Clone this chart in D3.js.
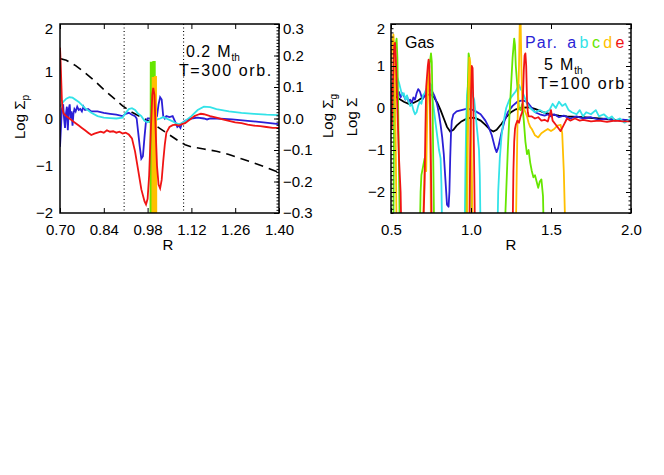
<!DOCTYPE html>
<html><head><meta charset="utf-8">
<script src="https://cdn.jsdelivr.net/npm/d3@7"></script>
<style>html,body{margin:0;padding:0;background:#fff;}svg{display:block;}</style>
</head><body>
<svg id="chart" width="664" height="475"></svg>
<script>
// ---------------- DATA ----------------
// Left panel (0.2 Mth, T=300 orb.) : R, log Sigma_p (left axis); gas on right axis
const leftXTicks = [0.70, 0.84, 0.98, 1.12, 1.26, 1.40];
const leftYTicks = [-2, -1, 0, 1, 2];
const leftY2Ticks = [-0.3, -0.2, -0.1, 0.0, 0.1, 0.2, 0.3];
const leftDotted = [0.905, 1.095];
const leftGas = [[0.70,0.19],[0.72,0.185],[0.75,0.168],[0.78,0.145],[0.81,0.12],[0.84,0.092],[0.87,0.066],[0.90,0.04],[0.93,0.02],[0.96,0.004],[0.99,-0.012],[1.02,-0.032],[1.05,-0.052],[1.08,-0.072],[1.10,-0.083],[1.12,-0.09],[1.16,-0.097],[1.20,-0.104],[1.24,-0.114],[1.28,-0.128],[1.32,-0.141],[1.36,-0.156],[1.40,-0.171]];
const leftA = [[0.700,-0.6],[0.703,-0.2],[0.706,0.2],[0.710,0.3],[0.713,0.0],[0.716,-0.2],[0.719,0.1],[0.722,0.25],[0.725,-0.25],[0.728,0.2],[0.731,0.3],[0.734,0.0],[0.737,0.15],[0.740,-0.15],[0.743,0.1],[0.746,0.2],[0.750,0.15],[0.755,0.25],[0.760,0.18],[0.765,0.2],[0.770,0.15],[0.775,0.25],[0.780,0.18],[0.79,0.2],[0.80,0.15],[0.82,0.15],[0.84,0.12],[0.86,0.1],[0.88,0.08],[0.90,0.05],[0.91,0.1],[0.92,0.12],[0.93,0.08],[0.94,0.05],[0.945,0.0],[0.95,-0.3],[0.955,-0.6],[0.96,-0.85],[0.965,-0.8],[0.97,-0.4],[0.975,-0.05],[0.98,0.0],[0.99,0.0],[1.00,-0.05],[1.01,0.05],[1.015,0.3],[1.02,0.45],[1.025,0.4],[1.03,0.05],[1.035,0.0],[1.04,0.05],[1.05,0.03],[1.06,0.05],[1.07,-0.1],[1.075,-0.18],[1.08,-0.15],[1.085,-0.2],[1.09,-0.1],[1.10,-0.05],[1.12,0.0],[1.14,0.02],[1.16,0.0],[1.17,-0.02],[1.18,0.0],[1.20,0.0],[1.25,-0.02],[1.30,-0.05],[1.35,-0.08],[1.40,-0.12]];
const leftB = [[0.70,0.25],[0.71,0.35],[0.72,0.42],[0.73,0.45],[0.74,0.44],[0.76,0.35],[0.78,0.22],[0.80,0.12],[0.82,0.05],[0.84,0.02],[0.86,0.01],[0.88,0.0],[0.90,0.02],[0.91,0.12],[0.92,0.2],[0.93,0.22],[0.94,0.18],[0.95,0.1],[0.96,0.05],[0.97,-0.05],[0.98,-0.08],[0.99,-0.05],[1.00,0.0],[1.01,-0.02],[1.02,0.0],[1.03,0.03],[1.04,0.0],[1.05,-0.03],[1.06,-0.06],[1.07,-0.1],[1.08,-0.12],[1.09,-0.1],[1.10,-0.05],[1.12,0.05],[1.14,0.18],[1.16,0.25],[1.18,0.24],[1.20,0.2],[1.24,0.15],[1.28,0.12],[1.32,0.1],[1.36,0.08],[1.40,0.07]];
const leftC = [[0.989,-2.5],[0.990,1.2],[0.992,-2.5],[0.994,1.2],[0.996,-2.5],[0.998,1.2],[1.003,1.2],[1.004,-2.5]];
const leftD = [[0.995,-2.5],[0.996,0.88],[0.998,-2.5],[1.000,0.88],[1.002,-2.5],[1.004,0.88],[1.007,0.88],[1.008,-2.5]];
const leftE = [[0.700,1.5],[0.702,1.2],[0.704,0.8],[0.706,0.4],[0.708,0.2],[0.712,0.1],[0.72,0.05],[0.73,0.0],[0.74,-0.05],[0.75,-0.1],[0.76,-0.15],[0.77,-0.2],[0.78,-0.25],[0.79,-0.3],[0.80,-0.35],[0.81,-0.32],[0.82,-0.3],[0.83,-0.28],[0.84,-0.3],[0.85,-0.25],[0.86,-0.28],[0.87,-0.27],[0.88,-0.3],[0.89,-0.28],[0.90,-0.32],[0.91,-0.3],[0.92,-0.34],[0.93,-0.42],[0.94,-0.7],[0.95,-1.1],[0.96,-1.5],[0.97,-1.75],[0.975,-1.82],[0.98,-1.7],[0.985,-1.2],[0.99,-0.3],[0.995,0.5],[0.998,0.65],[1.002,0.5],[1.006,-0.3],[1.01,-1.0],[1.015,-1.4],[1.02,-1.48],[1.025,-1.3],[1.03,-0.9],[1.035,-0.55],[1.04,-0.3],[1.05,-0.18],[1.06,-0.14],[1.07,-0.13],[1.08,-0.15],[1.09,-0.12],[1.10,-0.1],[1.11,-0.05],[1.12,0.0],[1.13,0.05],[1.14,0.08],[1.15,0.1],[1.16,0.09],[1.18,0.05],[1.20,0.02],[1.22,-0.02],[1.24,-0.05],[1.26,-0.08],[1.28,-0.1],[1.30,-0.13],[1.32,-0.15],[1.34,-0.16],[1.36,-0.18],[1.38,-0.2],[1.40,-0.2]];

// Right panel (5 Mth, T=100 orb): R, log Sigma
const rightXTicks = [0.5, 1.0, 1.5, 2.0];
const rightYTicks = [-2, -1, 0, 1, 2];
const rightGas = [[0.50,0.33],[0.52,0.3],[0.55,0.22],[0.58,0.15],[0.61,0.1],[0.64,0.12],[0.67,0.18],[0.70,0.26],[0.73,0.32],[0.75,0.32],[0.77,0.25],[0.79,0.12],[0.81,-0.05],[0.83,-0.25],[0.85,-0.45],[0.87,-0.56],[0.89,-0.52],[0.91,-0.42],[0.94,-0.32],[0.97,-0.26],[1.00,-0.23],[1.03,-0.24],[1.06,-0.3],[1.09,-0.4],[1.12,-0.52],[1.14,-0.56],[1.16,-0.52],[1.19,-0.38],[1.22,-0.22],[1.25,-0.1],[1.28,-0.03],[1.32,0.0],[1.36,0.02],[1.40,-0.02],[1.45,-0.1],[1.50,-0.15],[1.55,-0.18],[1.60,-0.2],[1.70,-0.22],[1.80,-0.25],[1.90,-0.28],[2.00,-0.3]];
const rightA = [[0.50,0.38],[0.51,0.42],[0.52,0.35],[0.53,0.4],[0.54,0.3],[0.55,0.38],[0.56,0.25],[0.57,0.35],[0.58,0.3],[0.59,0.2],[0.60,0.28],[0.61,0.15],[0.62,0.2],[0.63,0.12],[0.64,0.25],[0.65,0.2],[0.66,0.35],[0.67,0.45],[0.68,0.4],[0.69,0.28],[0.70,0.22],[0.71,0.3],[0.72,0.35],[0.73,0.4],[0.74,0.45],[0.75,0.42],[0.76,0.38],[0.77,0.3],[0.78,0.2],[0.79,0.05],[0.80,-0.15],[0.81,-0.4],[0.82,-0.7],[0.83,-1.1],[0.84,-1.7],[0.85,-2.3],[0.86,-2.35],[0.865,-2.0],[0.87,-1.2],[0.875,-0.6],[0.88,-0.3],[0.89,-0.15],[0.91,-0.08],[0.94,-0.05],[0.97,-0.02],[1.00,-0.03],[1.03,-0.08],[1.06,-0.15],[1.09,-0.3],[1.11,-0.45],[1.13,-0.65],[1.15,-0.95],[1.16,-1.05],[1.17,-0.95],[1.19,-0.6],[1.21,-0.3],[1.23,-0.1],[1.26,0.05],[1.29,0.15],[1.32,0.18],[1.35,0.15],[1.37,0.05],[1.40,-0.1],[1.43,-0.15],[1.46,-0.18],[1.48,-0.15],[1.50,-0.2],[1.52,-0.15],[1.55,-0.22],[1.58,-0.18],[1.62,-0.25],[1.66,-0.2],[1.70,-0.25],[1.75,-0.22],[1.80,-0.28],[1.85,-0.25],[1.90,-0.3],[1.95,-0.28],[2.00,-0.3]];
const rightB = [[0.50,0.5],[0.51,0.6],[0.52,0.5],[0.53,0.65],[0.54,0.72],[0.55,0.6],[0.56,0.45],[0.57,0.3],[0.58,0.35],[0.59,0.2],[0.60,0.3],[0.61,0.15],[0.62,0.05],[0.63,0.1],[0.64,-0.05],[0.65,-0.15],[0.66,-0.1],[0.67,0.05],[0.68,0.15],[0.69,0.1],[0.70,0.3],[0.71,0.35],[0.72,0.45],[0.73,0.5],[0.74,0.6],[0.75,0.55],[0.76,0.2],[0.77,-0.1],[0.78,-0.4],[0.79,-0.7],[0.80,-1.0],[0.81,-1.2],[0.815,-1.8],[0.82,-3],[0.96,-3],[0.965,-1.5],[0.97,-0.3],[0.975,0.3],[0.98,0.5],[0.99,0.45],[1.00,0.55],[1.01,0.3],[1.02,0.2],[1.03,-0.2],[1.04,-0.6],[1.05,-1.0],[1.055,-1.6],[1.06,-3],[1.165,-3],[1.17,-2.0],[1.18,-1.2],[1.19,-0.7],[1.20,-0.4],[1.21,-0.2],[1.22,0.0],[1.24,0.2],[1.26,0.3],[1.28,0.4],[1.30,0.55],[1.31,0.45],[1.32,0.4],[1.33,0.3],[1.35,0.1],[1.37,0.0],[1.40,-0.1],[1.43,-0.05],[1.46,-0.12],[1.49,-0.05],[1.51,0.1],[1.53,0.0],[1.55,0.15],[1.57,0.05],[1.59,0.1],[1.61,-0.05],[1.63,-0.1],[1.66,-0.15],[1.68,-0.05],[1.70,-0.2],[1.72,-0.1],[1.75,-0.15],[1.78,-0.05],[1.80,-0.2],[1.83,-0.15],[1.86,-0.25],[1.88,-0.2],[1.90,-0.3],[1.93,-0.25],[1.96,-0.35],[2.00,-0.25]];
const rightC = [[0.50,-3],[0.515,-3],[0.52,0.5],[0.525,1.4],[0.535,1.65],[0.54,1.2],[0.545,0.0],[0.55,-1.5],[0.555,-3],[0.68,-3],[0.685,-2.0],[0.69,-1.6],[0.70,-1.4],[0.71,-1.2],[0.715,-1.5],[0.72,-0.5],[0.73,0.5],[0.74,1.0],[0.75,1.3],[0.755,1.1],[0.76,0.0],[0.765,-1.5],[0.77,-3],[0.97,-3],[0.975,-1.0],[0.98,0.5],[0.985,1.3],[0.99,1.2],[0.995,0.3],[1.0,-1.0],[1.005,-3],[1.21,-3],[1.22,-2.0],[1.23,-1.0],[1.24,-0.2],[1.25,0.5],[1.26,1.2],[1.27,1.65],[1.275,1.5],[1.28,1.0],[1.29,0.5],[1.30,0.0],[1.31,-0.05],[1.32,0.1],[1.33,-0.3],[1.34,-0.8],[1.35,-1.1],[1.36,-1.0],[1.37,-1.3],[1.38,-1.5],[1.39,-1.65],[1.40,-1.6],[1.41,-1.75],[1.42,-1.9],[1.43,-1.75],[1.44,-1.7],[1.45,-2.1],[1.455,-3],[2.0,-3]];
const rightD = [[0.50,0.8],[0.505,1.3],[0.51,1.6],[0.515,1.75],[0.52,1.5],[0.525,0.5],[0.53,-1.0],[0.535,-3],[0.70,-3],[0.705,-2.0],[0.71,-1.5],[0.715,-1.2],[0.72,-1.5],[0.725,-0.5],[0.73,0.5],[0.735,0.9],[0.74,0.8],[0.745,-0.5],[0.75,-3],[0.975,-3],[0.98,-1.0],[0.985,0.5],[0.99,1.2],[0.995,1.1],[1.0,0.0],[1.005,-1.5],[1.01,-3],[1.28,-3],[1.29,-0.5],[1.30,1.0],[1.305,2.1],[1.31,2.1],[1.315,1.0],[1.32,0.2],[1.33,0.0],[1.34,-0.1],[1.35,-0.2],[1.36,-0.35],[1.37,-0.45],[1.38,-0.5],[1.40,-0.65],[1.42,-0.7],[1.44,-0.6],[1.46,-0.55],[1.48,-0.5],[1.50,-0.55],[1.52,-0.5],[1.54,-0.42],[1.56,-0.4],[1.57,-0.6],[1.58,-1.5],[1.59,-3],[2.0,-3]];
const rightE = [[0.50,0.5],[0.505,-0.5],[0.51,0.3],[0.515,1.0],[0.52,1.5],[0.525,1.55],[0.53,1.2],[0.54,0.0],[0.55,-1.2],[0.56,-2.0],[0.565,-3],[0.70,-3],[0.71,-1.8],[0.715,-0.5],[0.72,0.5],[0.73,1.0],[0.735,1.15],[0.74,1.0],[0.745,0.0],[0.75,-1.5],[0.755,-3],[0.99,-3],[0.995,-1.0],[1.0,0.3],[1.005,1.0],[1.01,0.95],[1.015,0.0],[1.02,-1.5],[1.025,-3],[1.26,-3],[1.265,-1.5],[1.27,-0.8],[1.275,-0.5],[1.28,-0.4],[1.29,-0.3],[1.30,-0.35],[1.31,-0.2],[1.32,-0.1],[1.325,0.3],[1.33,0.9],[1.335,1.25],[1.34,1.3],[1.345,1.0],[1.35,0.2],[1.355,-0.1],[1.36,-0.2],[1.38,-0.2],[1.40,-0.25],[1.42,-0.22],[1.44,-0.3],[1.46,-0.28],[1.48,-0.32],[1.50,-0.05],[1.51,-0.3],[1.53,-0.4],[1.55,-0.5],[1.56,-0.55],[1.58,-0.4],[1.60,-0.25],[1.62,-0.3],[1.65,-0.25],[1.68,-0.3],[1.70,-0.28],[1.75,-0.32],[1.80,-0.3],[1.85,-0.33],[1.90,-0.3],[1.95,-0.32],[2.00,-0.32]];

const seriesNames = ["a","b","c","d","e"];
const seriesColors = ["#2b1fd6","#33e3e8","#66e600","#ffbf00","#f01414"];

// ---------------- DRAW ----------------
const FONT = "'Liberation Sans', Arial, Helvetica, sans-serif";
const svg = d3.select("#chart").style("font-family", FONT);

const yTop = 24, yBot = 213;

function styleAxis(g, size) {
  g.select(".domain").remove();
  g.selectAll("line").attr("stroke", "#000").attr("stroke-width", 1);
  g.selectAll("text").attr("fill", "#000").attr("font-size", size || 15).attr("font-family", FONT);
}

function panel(opts) {
  const g = svg.append("g");
  const x = opts.x;
  const [x0, x1] = x.range();
  const clipId = "clip" + opts.id;
  svg.append("clipPath").attr("id", clipId).append("rect")
    .attr("x", x0).attr("y", yTop).attr("width", x1 - x0).attr("height", yBot - yTop);
  const plot = g.append("g").attr("clip-path", `url(#${clipId})`);
  const line = (yy) => d3.line().x(d => x(d[0])).y(d => yy(d[1]));
  const xb = g.append("g").attr("transform", `translate(0,${yBot})`)
    .call(d3.axisBottom(x).tickValues(opts.xTicks).tickFormat(d3.format(opts.xFmt)).tickSize(-5).tickPadding(11));
  styleAxis(xb);
  const xt = g.append("g").attr("transform", `translate(0,${yTop})`)
    .call(d3.axisTop(x).tickValues(opts.xTicks).tickFormat("").tickSize(-5));
  styleAxis(xt);
  return {g, plot, line};
}

// ---- Left panel ----
const xL = d3.scaleLinear().domain([0.70, 1.40]).range([60, 279]);
const yL = d3.scaleLinear().domain([-2, 2]).range([yBot, yTop]);
const yG = d3.scaleLinear().domain([-0.3, 0.3]).range([yBot, yTop]);
const L = panel({id: "L", x: xL, xTicks: leftXTicks, xFmt: ".2f"});

const yla = L.g.append("g").attr("transform", `translate(60,0)`)
  .call(d3.axisLeft(yL).tickValues(leftYTicks).tickFormat(d3.format("d")).tickSize(0).tickPadding(7));
styleAxis(yla);
yla.selectAll(".tick").filter(d => d === 2).select("text").attr("dy", "0.65em");
const yra = L.g.append("g").attr("transform", `translate(279,0)`)
  .call(d3.axisRight(yG).tickValues(leftY2Ticks).tickFormat(d3.format(".1f")).tickSize(-5).tickPadding(4));
styleAxis(yra);
yra.selectAll(".tick").filter(d => d === 0.3).select("text").attr("dy", "0.65em");
const yrm = L.g.append("g").attr("transform", `translate(279,0)`)
  .call(d3.axisRight(yG).tickValues(d3.range(-30, 31).map(v => v / 100)).tickFormat("").tickSize(-2.5));
styleAxis(yrm);

L.plot.selectAll("line.dot").data(leftDotted).join("line")
  .attr("x1", d => xL(d)).attr("x2", d => xL(d)).attr("y1", yTop).attr("y2", yBot)
  .attr("stroke", "#000").attr("stroke-width", 1.1).attr("stroke-dasharray", "1,2.5");
L.plot.append("path").datum(leftGas).attr("d", L.line(yG))
  .attr("fill", "none").attr("stroke", "#000").attr("stroke-width", 1.6).attr("stroke-dasharray", "9,6");
[leftA, leftB, leftC, leftD, leftE].forEach((s, i) => {
  L.plot.append("path").datum(s).attr("d", L.line(yL))
    .attr("fill", "none").attr("stroke", seriesColors[i]).attr("stroke-width", 1.8).attr("stroke-linejoin", "miter");
});
L.g.append("rect").attr("x", 60).attr("y", yTop).attr("width", 219).attr("height", yBot - yTop)
  .attr("fill", "none").attr("stroke", "#000").attr("stroke-width", 1.5);

// ---- Right panel ----
const xR = d3.scaleLinear().domain([0.5, 2.0]).range([391, 631]);
const yR = d3.scaleLinear().domain([-2.5, 2]).range([yBot, yTop]);
const R = panel({id: "R", x: xR, xTicks: rightXTicks, xFmt: ".1f"});
const rla = R.g.append("g").attr("transform", `translate(391,0)`)
  .call(d3.axisLeft(yR).tickValues(rightYTicks).tickFormat(d3.format("d")).tickSize(-5).tickPadding(6));
styleAxis(rla);
rla.selectAll(".tick").filter(d => d === 2).select("text").attr("dy", "0.65em");
const minorR = d3.range(-25, 21).map(v => v / 10);
const rlm = R.g.append("g").attr("transform", `translate(391,0)`)
  .call(d3.axisLeft(yR).tickValues(minorR).tickFormat("").tickSize(-2.5));
styleAxis(rlm);
const rra = R.g.append("g").attr("transform", `translate(631,0)`)
  .call(d3.axisRight(yR).tickValues(rightYTicks).tickFormat("").tickSize(-5));
styleAxis(rra);
const rrm = R.g.append("g").attr("transform", `translate(631,0)`)
  .call(d3.axisRight(yR).tickValues(minorR).tickFormat("").tickSize(-2.5));
styleAxis(rrm);

R.plot.append("path").datum(rightGas).attr("d", R.line(yR))
  .attr("fill", "none").attr("stroke", "#000").attr("stroke-width", 1.8);
[rightA, rightB, rightC, rightD, rightE].forEach((s, i) => {
  R.plot.append("path").datum(s).attr("d", R.line(yR))
    .attr("fill", "none").attr("stroke", seriesColors[i]).attr("stroke-width", 1.8).attr("stroke-linejoin", "round");
});
R.g.append("rect").attr("x", 391).attr("y", yTop).attr("width", 240).attr("height", yBot - yTop)
  .attr("fill", "none").attr("stroke", "#000").attr("stroke-width", 1.5);

// ---- Axis titles ----
svg.append("text").attr("x", 168).attr("y", 250).attr("text-anchor", "middle").attr("font-size", 15).text("R");
svg.append("text").attr("x", 511).attr("y", 250).attr("text-anchor", "middle").attr("font-size", 15).text("R");

function ylabel(xp, yp, sub) {
  const t = svg.append("text").attr("transform", `translate(${xp},${yp}) rotate(-90)`)
    .attr("text-anchor", "middle").attr("font-size", 15);
  t.append("tspan").text("Log Σ");
  if (sub) t.append("tspan").attr("font-size", 10).attr("dy", 4).text(sub);
}
ylabel(25, 117, "p");
ylabel(333, 116, "g");
ylabel(357, 117, null);

// ---- Annotations ----
function mth(xp, yp, lead) {
  const t = svg.append("text").attr("x", xp).attr("y", yp).attr("font-size", 16).attr("letter-spacing", 1);
  t.append("tspan").text(lead);
  t.append("tspan").attr("dx", 6).text("M");
  t.append("tspan").attr("font-size", 10).attr("dy", 4).attr("letter-spacing", 0).text("th");
}
mth(186, 57, "0.2");
svg.append("text").attr("x", 179).attr("y", 76).attr("font-size", 16).attr("letter-spacing", 1.6).text("T=300 orb.");

svg.append("text").attr("x", 405).attr("y", 48).attr("font-size", 16).text("Gas");
const par = svg.append("text").attr("x", 525).attr("y", 48).attr("font-size", 16).attr("letter-spacing", 1.2);
par.append("tspan").attr("fill", seriesColors[0]).text("Par.");
seriesNames.forEach((n, i) => {
  par.append("tspan").attr("fill", seriesColors[i]).attr("dx", i === 0 ? 9 : 2.2).text(n);
});
mth(544, 70, "5");
svg.append("text").attr("x", 538).attr("y", 89).attr("font-size", 16).attr("letter-spacing", 1.6).text("T=100 orb");
</script>
</body></html>
